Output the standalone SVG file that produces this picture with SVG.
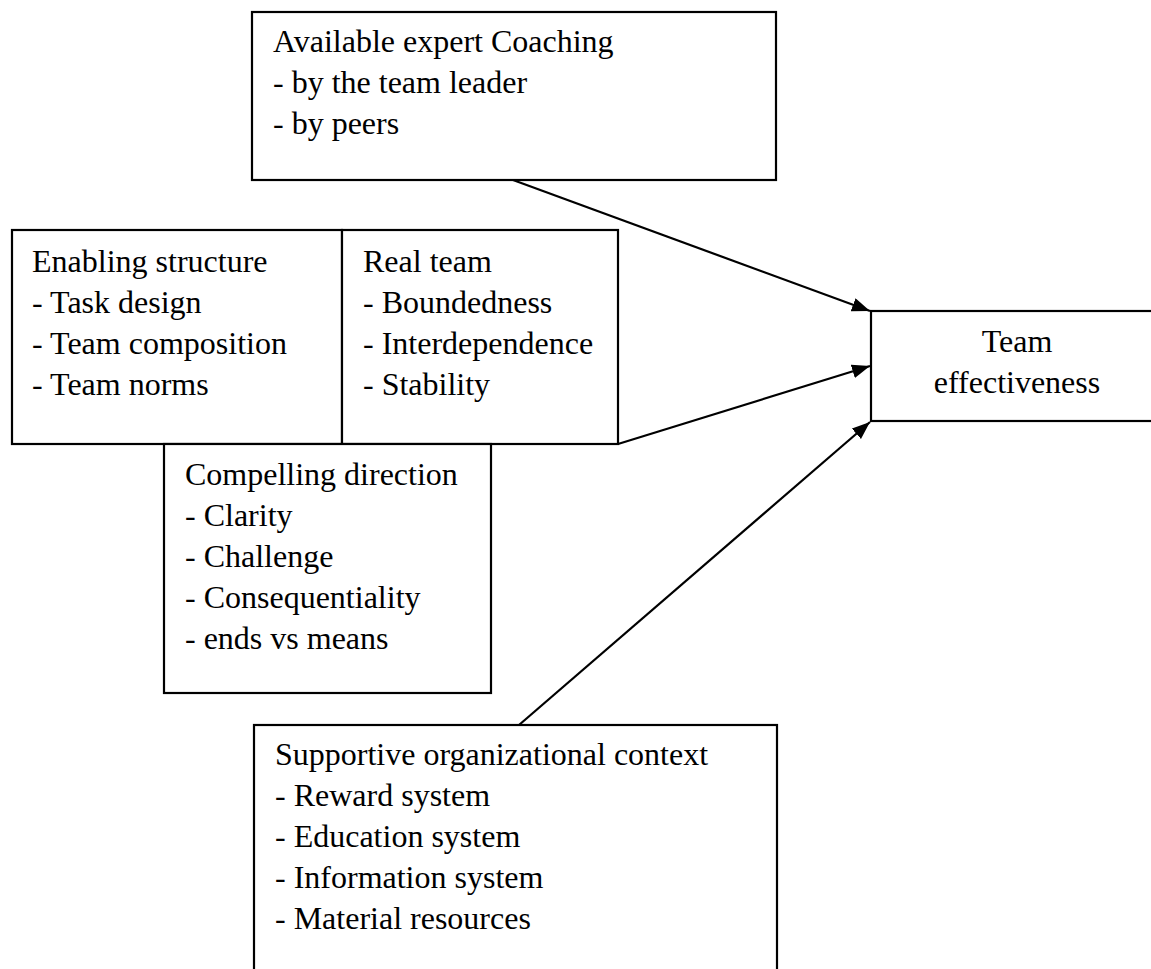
<svg xmlns="http://www.w3.org/2000/svg" width="1151" height="969" viewBox="0 0 1151 969">
<style>
.box{fill:#fff;stroke:#000;stroke-width:2.2}
.t{font-family:"Liberation Serif","Times New Roman",serif;font-size:32px;fill:#000}
.c{stroke:#000;stroke-width:2.2;fill:none}
</style>
<defs>
<marker id="ah" markerUnits="userSpaceOnUse" markerWidth="20" markerHeight="16" refX="18" refY="7" orient="auto">
<path d="M0,0 L18,7 L0,14 z" fill="#000"/>
</marker>
</defs>
<rect width="1151" height="969" fill="#fff"/>
<g id="coaching">
<rect class="box" x="252" y="12" width="524" height="168"/>
<text class="t" x="273" y="52">Available expert Coaching</text>
<text class="t" x="273" y="93">- by the team leader</text>
<text class="t" x="273" y="134">- by peers</text>
</g>
<g id="enabling">
<rect class="box" x="12" y="230" width="330" height="214"/>
<text class="t" x="32" y="272">Enabling structure</text>
<text class="t" x="32" y="313">- Task design</text>
<text class="t" x="32" y="354">- Team composition</text>
<text class="t" x="32" y="395">- Team norms</text>
</g>
<g id="realteam">
<rect class="box" x="342" y="230" width="276" height="214"/>
<text class="t" x="363" y="272">Real team</text>
<text class="t" x="363" y="313">- Boundedness</text>
<text class="t" x="363" y="354">- Interdependence</text>
<text class="t" x="363" y="395">- Stability</text>
</g>
<g id="direction">
<rect class="box" x="164" y="444" width="327" height="249"/>
<text class="t" x="185" y="485">Compelling direction</text>
<text class="t" x="185" y="526">- Clarity</text>
<text class="t" x="185" y="567">- Challenge</text>
<text class="t" x="185" y="608">- Consequentiality</text>
<text class="t" x="185" y="649">- ends vs means</text>
</g>
<g id="effectiveness">
<rect class="box" x="871" y="311" width="300" height="110"/>
<text class="t" x="1017" y="352" text-anchor="middle">Team</text>
<text class="t" x="1017" y="393" text-anchor="middle">effectiveness</text>
</g>
<g id="context">
<rect class="box" x="254" y="725" width="523" height="260"/>
<text class="t" x="275" y="765">Supportive organizational context</text>
<text class="t" x="275" y="806">- Reward system</text>
<text class="t" x="275" y="847">- Education system</text>
<text class="t" x="275" y="888">- Information system</text>
<text class="t" x="275" y="929">- Material resources</text>
</g>
<g id="connectors">
<line class="c" x1="513" y1="180" x2="870" y2="311" marker-end="url(#ah)"/>
<line class="c" x1="618" y1="444" x2="870" y2="366" marker-end="url(#ah)"/>
<line class="c" x1="519" y1="725" x2="870" y2="422" marker-end="url(#ah)"/>
</g>
</svg>
